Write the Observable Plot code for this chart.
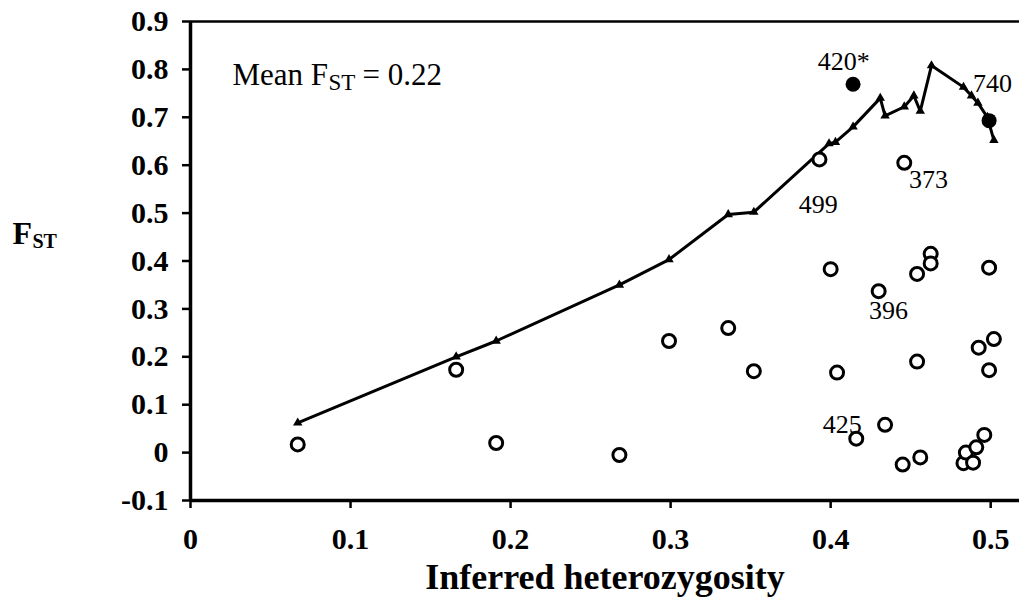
<!DOCTYPE html>
<html>
<head>
<meta charset="utf-8">
<script src="https://cdn.jsdelivr.net/npm/d3@7"></script>
<script src="https://cdn.jsdelivr.net/npm/@observablehq/plot@0.6"></script>
<style>
  html, body { margin: 0; padding: 0; background: white; }
  svg text { font-family: 'Liberation Serif', 'Times New Roman', serif; }
</style>
</head>
<body>
<div id="chart"></div>
<script>
// Tick labels
const xTicks = [0, 0.1, 0.2, 0.3, 0.4, 0.5];
const yTicks = [-0.1, 0, 0.1, 0.2, 0.3, 0.4, 0.5, 0.6, 0.7, 0.8, 0.9];

// Upper-quantile line (triangles)
const lineH = [0.067, 0.166, 0.191, 0.268, 0.299, 0.336, 0.352, 0.399, 0.403, 0.414, 0.431, 0.434, 0.446, 0.452, 0.456, 0.463, 0.483, 0.488, 0.492, 0.498, 0.502];
const lineF = [0.062, 0.200, 0.233, 0.350, 0.403, 0.497, 0.502, 0.645, 0.648, 0.680, 0.740, 0.703, 0.722, 0.745, 0.713, 0.808, 0.763, 0.745, 0.730, 0.700, 0.652];

// Loci (open circles)
const lociH = [0.067, 0.166, 0.191, 0.268, 0.299, 0.336, 0.352, 0.393, 0.400, 0.404, 0.416, 0.430, 0.434, 0.445, 0.446, 0.454, 0.454, 0.456, 0.4625, 0.4625, 0.483, 0.4845, 0.489, 0.491, 0.4925, 0.496, 0.499, 0.499, 0.502];
const lociF = [0.017, 0.173, 0.020, -0.005, 0.233, 0.260, 0.170, 0.612, 0.383, 0.167, 0.029, 0.337, 0.058, -0.025, 0.605, 0.373, 0.190, -0.010, 0.415, 0.395, -0.022, 0.000, -0.021, 0.011, 0.219, 0.037, 0.386, 0.172, 0.237];

// Outlier loci (filled circles)
const outH = [0.414, 0.499];
const outF = [0.769, 0.693];

// Locus labels (anchor in data units)
const labelText = ["420*", "740", "373", "499", "396", "425"];
const labelH = [0.392, 0.489, 0.449, 0.380, 0.424, 0.395];
const labelF = [0.817, 0.771, 0.569, 0.517, 0.296, 0.059];

const xTitle = "Inferred heterozygosity";

const lineData = lineH.map((h, i) => ({h, f: lineF[i]}));
const lociData = lociH.map((h, i) => ({h, f: lociF[i]}));
const outData = outH.map((h, i) => ({h, f: outF[i]}));
const labelData = labelText.map((t, i) => ({t, h: labelH[i], f: labelF[i]}));

const fmt = d => String(d);
const serif = "'Liberation Serif', 'Times New Roman', serif";

const chart = Plot.plot({
  width: 1019,
  height: 601,
  marginLeft: 190,
  marginRight: 0,
  marginTop: 21,
  marginBottom: 101,
  x: {domain: [0, 0.518]},
  y: {domain: [-0.1, 0.9]},
  style: {
    fontFamily: serif,
    fontSize: "29px",
    fontWeight: "bold",
    background: "white",
    color: "black"
  },
  marks: [
    Plot.axisX({ticks: xTicks, tickSize: 8, tickPadding: 19, tickFormat: fmt, label: null, strokeWidth: 2.5, fontSize: 30, fontWeight: "bold", fontFamily: serif, fontVariant: "normal"}),
    Plot.axisY({ticks: yTicks, tickSize: 8, tickPadding: 14, tickFormat: fmt, label: null, strokeWidth: 2.5, fontSize: 30, fontWeight: "bold", fontFamily: serif, fontVariant: "normal"}),
    Plot.ruleX([0], {stroke: "black", strokeWidth: 3.5}),
    Plot.ruleY([-0.1], {stroke: "black", strokeWidth: 3.5}),
    Plot.ruleY([0.9], {stroke: "black", strokeWidth: 2.5}),
    Plot.line(lineData, {x: "h", y: "f", stroke: "black", strokeWidth: 3}),
    Plot.dot(lineData, {x: "h", y: "f", symbol: "triangle", r: 3.5, fill: "black", stroke: "none"}),
    Plot.dot(lociData, {x: "h", y: "f", r: 6.5, fill: "white", stroke: "black", strokeWidth: 3}),
    Plot.dot(outData, {x: "h", y: "f", r: 7.5, fill: "black", stroke: "none"}),
    Plot.text(labelData, {x: "h", y: "f", text: "t", textAnchor: "start", lineAnchor: "middle", fontSize: 26, fontWeight: "normal", fontFamily: serif, fill: "black"}),
    // Mean F_ST annotation
    Plot.text(["Mean F"], {text: d => d, frameAnchor: "top-left", dx: 42, dy: 54, textAnchor: "start", lineAnchor: "middle", fontSize: 31, fontWeight: "normal", fontFamily: serif}),
    Plot.text(["ST"], {text: d => d, frameAnchor: "top-left", dx: 138, dy: 61.5, textAnchor: "start", lineAnchor: "middle", fontSize: 23, fontWeight: "normal", fontFamily: serif}),
    Plot.text(["= 0.22"], {text: d => d, frameAnchor: "top-left", dx: 172, dy: 54, textAnchor: "start", lineAnchor: "middle", fontSize: 31, fontWeight: "normal", fontFamily: serif}),
    // Y axis title F_ST
    Plot.text(["F"], {text: d => d, frameAnchor: "left", dx: -178, dy: -27.7, textAnchor: "start", lineAnchor: "middle", fontSize: 32, fontWeight: "bold", fontFamily: serif}),
    Plot.text(["ST"], {text: d => d, frameAnchor: "left", dx: -158, dy: -19.9, textAnchor: "start", lineAnchor: "middle", fontSize: 20, fontWeight: "bold", fontFamily: serif}),
    // X axis title
    Plot.text([xTitle], {text: d => d, frameAnchor: "bottom", dy: 76.5, lineAnchor: "middle", fontSize: 36, fontWeight: "bold", fontFamily: serif})
  ]
});

document.getElementById("chart").appendChild(chart);
</script>
</body>
</html>
